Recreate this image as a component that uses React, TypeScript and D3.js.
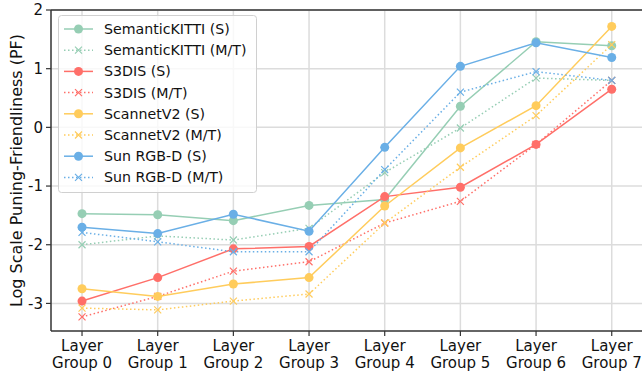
import React from 'react'
import * as d3 from 'd3'

// layer groups on the x axis
const groups = [0, 1, 2, 3, 4, 5, 6, 7]
const yTicks = [-3, -2, -1, 0, 1, 2]

// values (log scale PF)
const kittiS = [-1.47, -1.49, -1.59, -1.33, -1.23, 0.36, 1.46, 1.39]
const kittiMT = [-2.0, -1.85, -1.92, -1.72, -0.77, -0.01, 0.84, 0.8]
const s3disS = [-2.96, -2.56, -2.07, -2.03, -1.18, -1.02, -0.29, 0.65]
const s3disMT = [-3.23, -2.88, -2.45, -2.29, -1.63, -1.26, -0.29, 0.8]
const scanS = [-2.75, -2.88, -2.67, -2.56, -1.34, -0.35, 0.37, 1.72]
const scanMT = [-3.08, -3.11, -2.96, -2.84, -1.63, -0.68, 0.2, 1.41]
const sunS = [-1.7, -1.81, -1.48, -1.77, -0.34, 1.04, 1.44, 1.19]
const sunMT = [-1.79, -1.95, -2.12, -2.12, -0.72, 0.6, 0.95, 0.8]

const series = [
    { name: 'SemanticKITTI (S)', values: kittiS, color: '#96ceb4', dotted: false },
    { name: 'SemanticKITTI (M/T)', values: kittiMT, color: '#96ceb4', dotted: true },
    { name: 'S3DIS (S)', values: s3disS, color: '#ff6f69', dotted: false },
    { name: 'S3DIS (M/T)', values: s3disMT, color: '#ff6f69', dotted: true },
    { name: 'ScannetV2 (S)', values: scanS, color: '#ffcc5c', dotted: false },
    { name: 'ScannetV2 (M/T)', values: scanMT, color: '#ffcc5c', dotted: true },
    { name: 'Sun RGB-D (S)', values: sunS, color: '#6aafe6', dotted: false },
    { name: 'Sun RGB-D (M/T)', values: sunMT, color: '#6aafe6', dotted: true },
]

const W = 642
const H = 375
const left = 51
const top = 10
const bottom = 331
const font = 'DejaVu Sans, sans-serif'

const Marker = ({ x, y, color, cross }) => {
    if (cross) {
        const s = 3.5
        return (
            <path
                d={`M${x - s},${y - s}L${x + s},${y + s}M${x - s},${y + s}L${x + s},${y - s}`}
                stroke={color}
                strokeWidth={1.2}
            />
        )
    }
    return <circle cx={x} cy={y} r={4.5} fill={color} />
}

const App = () => {
    const x = d3.scaleLinear().domain([-0.41, 7.4]).range([left, 642])
    const y = d3.scaleLinear().domain([-3.47, 2]).range([bottom, top])

    const line = d3
        .line<number>()
        .x((d, i) => x(groups[i]))
        .y(d => y(d))

    return (
        <svg
            width={W}
            height={H}
            style={{ position: 'absolute', left: 0, top: 0, background: '#fff' }}
            fontFamily={font}
        >
            {/* grid */}
            {groups.map(g => (
                <line key={'gx' + g} x1={x(g)} x2={x(g)} y1={top} y2={bottom} stroke='#dcdcdc' strokeWidth={1.5} />
            ))}
            {yTicks.map(t => (
                <line key={'gy' + t} x1={left} x2={W} y1={y(t)} y2={y(t)} stroke='#dcdcdc' strokeWidth={1.5} />
            ))}

            {/* series */}
            {series.map(s => (
                <g key={s.name}>
                    <path
                        d={line(s.values) || ''}
                        fill='none'
                        stroke={s.color}
                        strokeWidth={1.5}
                        strokeDasharray={s.dotted ? '1.5,2.5' : undefined}
                    />
                    {s.values.map((v, i) => (
                        <Marker key={i} x={x(groups[i])} y={y(v)} color={s.color} cross={s.dotted} />
                    ))}
                </g>
            ))}

            {/* spines */}
            <line x1={left} x2={left} y1={top} y2={bottom} stroke='#333' strokeWidth={1.5} />
            <line x1={left} x2={W} y1={bottom} y2={bottom} stroke='#333' strokeWidth={1.5} />
            <line x1={left} x2={W} y1={top} y2={top} stroke='#333' strokeWidth={1.5} />

            {/* y ticks */}
            {yTicks.map(t => (
                <g key={'yt' + t}>
                    <line x1={left - 5} x2={left} y1={y(t)} y2={y(t)} stroke='#333' strokeWidth={1.2} />
                    <text x={left - 8} y={y(t)} dy='0.35em' textAnchor='end' fontSize={15} fill='#111'>
                        {t < 0 ? '-' + Math.abs(t) : t}
                    </text>
                </g>
            ))}

            {/* x ticks */}
            {groups.map(g => (
                <g key={'xt' + g}>
                    <line x1={x(g)} x2={x(g)} y1={bottom} y2={bottom + 5} stroke='#333' strokeWidth={1.2} />
                    <text x={x(g)} y={351} textAnchor='middle' fontSize={15} fill='#111'>Layer</text>
                    <text x={x(g)} y={368} textAnchor='middle' fontSize={15} fill='#111'>{'Group ' + g}</text>
                </g>
            ))}

            <text
                transform={`translate(22, ${(top + bottom) / 2}) rotate(-90)`}
                textAnchor='middle'
                fontSize={16}
                fill='#111'
            >
                Log Scale Puning-Friendliness (PF)
            </text>

            {/* legend */}
            <rect x={58.5} y={15.5} width={198} height={177} rx={3} fill='#fff' fillOpacity={0.8} stroke='#d0d0d0' />
            {series.map((s, i) => {
                const ly = 29 + i * 21.2
                return (
                    <g key={'lg' + s.name}>
                        <line
                            x1={64}
                            x2={93}
                            y1={ly}
                            y2={ly}
                            stroke={s.color}
                            strokeWidth={1.5}
                            strokeDasharray={s.dotted ? '1.5,2.5' : undefined}
                        />
                        <Marker x={78.5} y={ly} color={s.color} cross={s.dotted} />
                        <text x={104} y={ly} dy='0.35em' fontSize={14.2} fill='#111'>{s.name}</text>
                    </g>
                )
            })}
        </svg>
    )
}

export default App
